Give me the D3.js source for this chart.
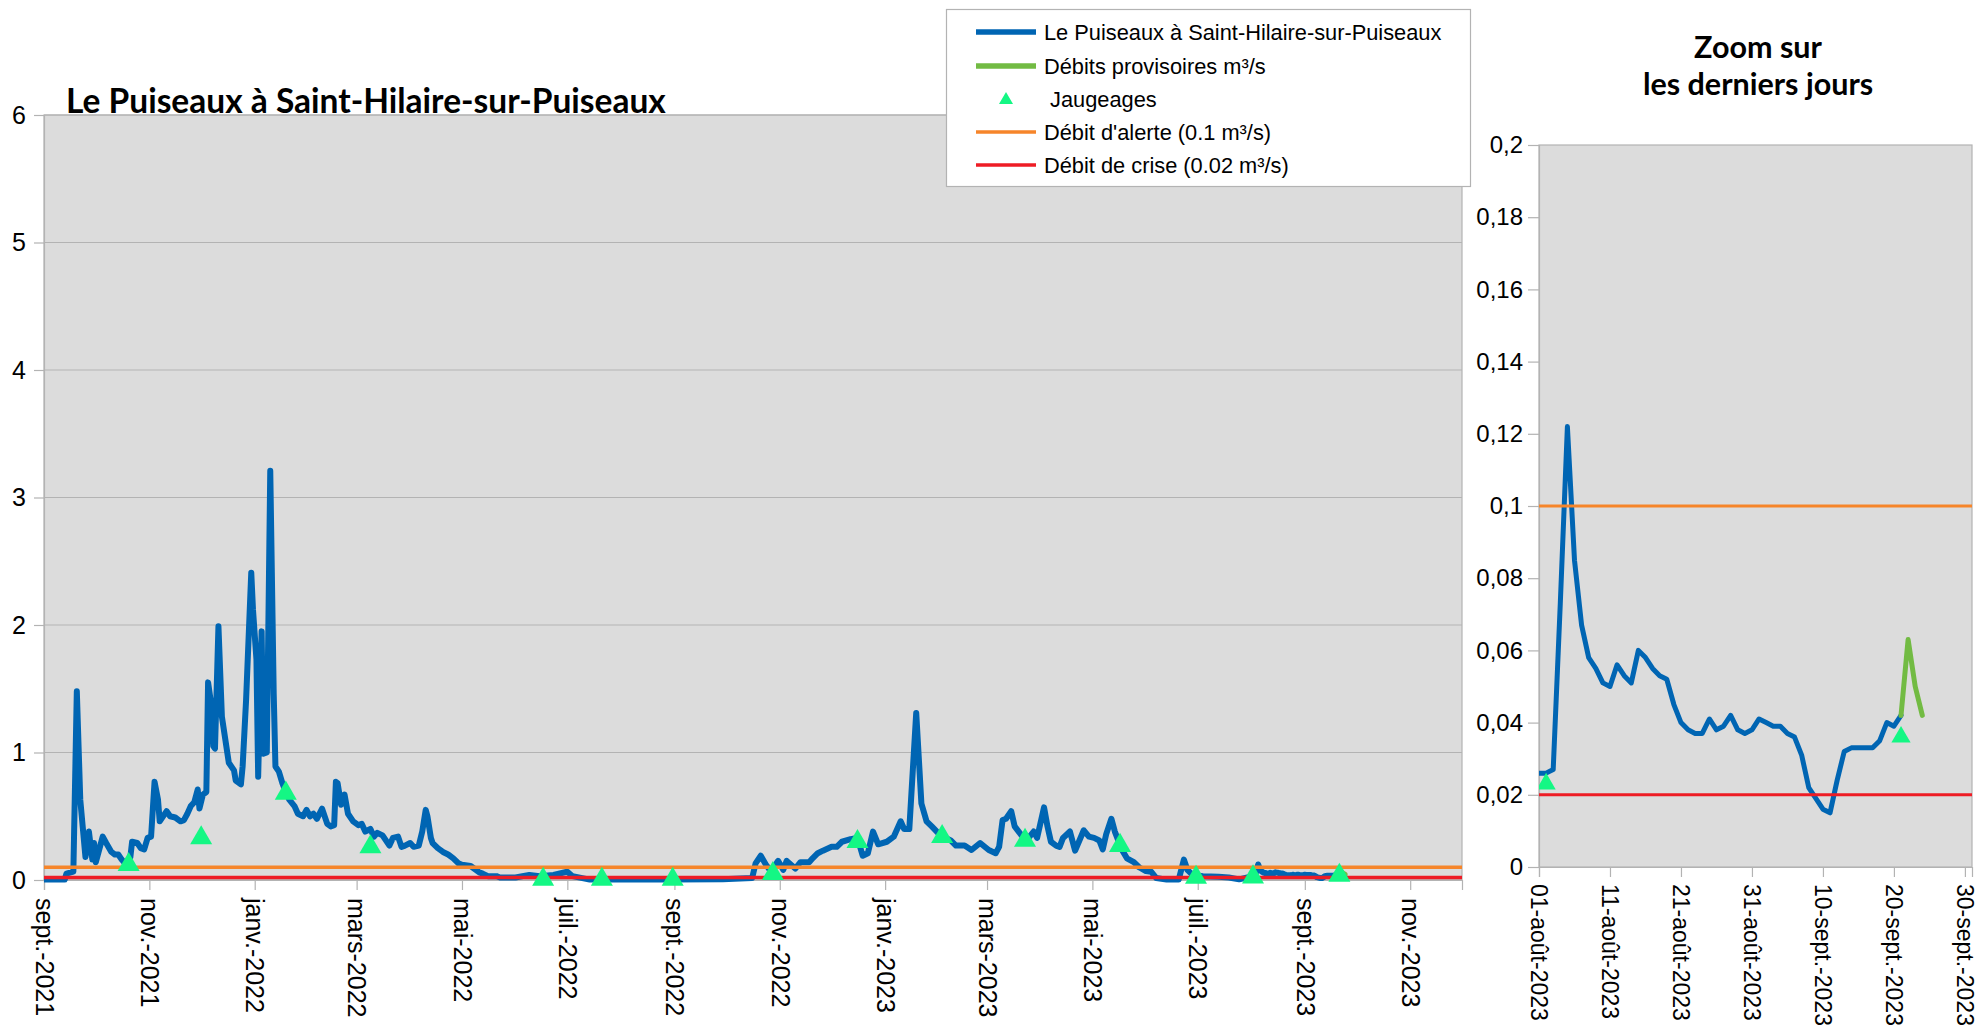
<!DOCTYPE html>
<html><head><meta charset="utf-8">
<script src="https://cdn.jsdelivr.net/npm/d3@7"></script>
<style>
body{margin:0;background:#fff;}
svg{display:block;font-family:"Liberation Sans",Arial,sans-serif;}
</style></head><body>
<svg id="c" width="1980" height="1031"></svg>
<script>
// ---------- DATA ----------
const mainDates = ["2021-09-01","2021-09-13","2021-09-14","2021-09-18","2021-09-20","2021-09-22","2021-09-25","2021-09-27","2021-09-29","2021-09-30",
"2021-10-01","2021-10-03","2021-10-05","2021-10-07","2021-10-10","2021-10-12","2021-10-14","2021-10-16","2021-10-18","2021-10-21","2021-10-22","2021-10-25","2021-10-27","2021-10-29","2021-10-31",
"2021-11-02","2021-11-04","2021-11-06","2021-11-07","2021-11-11","2021-11-13","2021-11-16","2021-11-19","2021-11-21","2021-11-23","2021-11-25","2021-11-27","2021-11-29","2021-11-30",
"2021-12-02","2021-12-04","2021-12-05","2021-12-07","2021-12-08","2021-12-09","2021-12-11","2021-12-13","2021-12-15","2021-12-17","2021-12-20","2021-12-21","2021-12-23","2021-12-24","2021-12-25","2021-12-27","2021-12-30","2021-12-31",
"2022-01-02","2022-01-03","2022-01-05","2022-01-06","2022-01-08","2022-01-10","2022-01-12","2022-01-13","2022-01-15","2022-01-17","2022-01-19","2022-01-21","2022-01-24","2022-01-26","2022-01-29","2022-01-31",
"2022-02-02","2022-02-04","2022-02-06","2022-02-09","2022-02-12","2022-02-14","2022-02-16","2022-02-17","2022-02-18","2022-02-20","2022-02-22","2022-02-24","2022-02-27",
"2022-03-02","2022-03-04","2022-03-06","2022-03-09","2022-03-11","2022-03-13","2022-03-16","2022-03-20","2022-03-22","2022-03-25","2022-03-27","2022-03-29",
"2022-04-01","2022-04-03","2022-04-06","2022-04-08","2022-04-10","2022-04-11","2022-04-13","2022-04-14","2022-04-17","2022-04-20","2022-04-23","2022-04-26","2022-04-29",
"2022-05-01","2022-05-06","2022-05-08","2022-05-11","2022-05-13","2022-05-16","2022-05-21","2022-05-23",
"2022-06-01","2022-06-09","2022-06-15","2022-06-23","2022-07-01","2022-07-04","2022-07-14","2022-08-02","2022-08-31","2022-09-29",
"2022-10-16","2022-10-18","2022-10-21","2022-10-24","2022-10-27","2022-10-31",
"2022-11-03","2022-11-05","2022-11-10","2022-11-13","2022-11-18","2022-11-20","2022-11-23","2022-11-26",
"2022-12-01","2022-12-04","2022-12-07","2022-12-12","2022-12-16","2022-12-19","2022-12-22","2022-12-25","2022-12-28",
"2023-01-02","2023-01-06","2023-01-10","2023-01-12","2023-01-15","2023-01-19","2023-01-22","2023-01-25","2023-01-28",
"2023-02-02","2023-02-08","2023-02-11","2023-02-16","2023-02-20","2023-02-25",
"2023-03-02","2023-03-06","2023-03-08","2023-03-10","2023-03-12","2023-03-15","2023-03-17","2023-03-21","2023-03-25","2023-03-28","2023-03-30",
"2023-04-03","2023-04-05","2023-04-07","2023-04-10","2023-04-12","2023-04-14","2023-04-18","2023-04-21","2023-04-26","2023-04-29",
"2023-05-02","2023-05-05","2023-05-07","2023-05-09","2023-05-12","2023-05-14","2023-05-18","2023-05-21","2023-05-25","2023-05-28",
"2023-06-01","2023-06-04","2023-06-07","2023-06-13","2023-06-20","2023-06-23","2023-06-25","2023-06-28",
"2023-07-04","2023-07-13","2023-07-19","2023-07-25","2023-07-31"];
const mainValues = [0.003,0.003,0.05,0.065,1.48,0.63,0.18,0.38,0.16,0.29,
0.14,0.24,0.34,0.29,0.22,0.2,0.2,0.16,0.13,0.18,0.3,0.29,0.25,0.24,0.33,
0.34,0.77,0.63,0.46,0.54,0.5,0.49,0.46,0.47,0.52,0.58,0.61,0.71,0.56,
0.67,0.69,1.55,1.36,1.05,1.03,1.99,1.28,1.1,0.92,0.86,0.78,0.76,0.75,0.89,1.41,2.41,2.12,
1.73,0.81,1.95,0.99,1.0,3.21,1.46,0.89,0.85,0.76,0.69,0.63,0.58,0.52,0.5,0.55,
0.5,0.52,0.48,0.56,0.44,0.42,0.43,0.77,0.76,0.59,0.67,0.52,0.46,
0.43,0.44,0.38,0.4,0.34,0.37,0.35,0.27,0.33,0.34,0.26,0.27,
0.29,0.26,0.27,0.38,0.55,0.5,0.33,0.29,0.25,0.22,0.2,0.17,0.13,
0.12,0.11,0.09,0.06,0.05,0.03,0.03,0.02,
0.02,0.04,0.03,0.04,0.065,0.03,0.003,0.003,0.003,0.005,
0.015,0.13,0.19,0.12,0.065,0.15,
0.08,0.15,0.09,0.14,0.14,0.17,0.21,0.23,
0.26,0.26,0.3,0.32,0.33,0.19,0.21,0.38,0.28,
0.3,0.34,0.46,0.4,0.4,1.31,0.6,0.46,0.42,
0.35,0.31,0.27,0.27,0.235,0.29,
0.235,0.21,0.26,0.47,0.48,0.54,0.42,0.35,0.33,0.38,0.33,
0.57,0.42,0.3,0.27,0.26,0.33,0.38,0.23,0.39,0.34,
0.33,0.31,0.24,0.36,0.48,0.38,0.24,0.17,0.14,0.1,
0.07,0.065,0.015,0.003,0.003,0.16,0.08,0.04,
0.03,0.026,0.02,0.005,0.025];

// daily values from 1 Aug 2023 (validated series)
const zoomStart = "2023-08-01";
const zoomValues = [0.026,0.026,0.027,0.073,0.122,0.085,0.067,0.058,0.055,0.051,
0.050,0.056,0.053,0.051,0.060,0.058,0.055,0.053,0.052,0.045,
0.040,0.038,0.037,0.037,0.041,0.038,0.039,0.042,0.038,0.037,
0.038,0.041,0.040,0.039,0.039,0.037,0.036,0.031,0.022,0.019,
0.016,0.015,0.024,0.032,0.033,0.033,0.033,0.033,0.035,0.040,
0.039,0.042];

// provisional flows
const provDates = ["2023-09-21","2023-09-22","2023-09-23","2023-09-24"];
const provValues = [0.042,0.063,0.050,0.042];

// gaugings (jaugeages)
const gaugeDates = ["2021-10-20","2021-12-01","2022-01-19","2022-03-09","2022-06-17","2022-07-21","2022-08-31","2022-10-28","2022-12-16","2023-02-03","2023-03-23","2023-05-17","2023-06-30","2023-08-02","2023-09-21"];
const gaugeValues = [0.12,0.33,0.68,0.26,0.005,0.005,0.005,0.05,0.30,0.34,0.31,0.27,0.02,0.023,0.036];

const alertLevel = 0.1;
const crisisLevel = 0.02;

const mainTickDates = ["2021-09-01","2021-11-01","2022-01-01","2022-03-01","2022-05-01","2022-07-01","2022-09-01","2022-11-01","2023-01-01","2023-03-01","2023-05-01","2023-07-01","2023-09-01","2023-11-01"];
const mainTickLabels = ["sept.-2021","nov.-2021","janv.-2022","mars-2022","mai-2022","juil.-2022","sept.-2022","nov.-2022","janv.-2023","mars-2023","mai-2023","juil.-2023","sept.-2023","nov.-2023"];
const mainYTicks = [0,1,2,3,4,5,6];
const mainYLabels = ["0","1","2","3","4","5","6"];

const zoomTickDates = ["2023-08-01","2023-08-11","2023-08-21","2023-08-31","2023-09-10","2023-09-20","2023-09-30"];
const zoomTickLabels = ["01-août-2023","11-août-2023","21-août-2023","31-août-2023","10-sept.-2023","20-sept.-2023","30-sept.-2023"];
const zoomYTicks = [0,0.02,0.04,0.06,0.08,0.1,0.12,0.14,0.16,0.18,0.2];
const zoomYLabels = ["0","0,02","0,04","0,06","0,08","0,1","0,12","0,14","0,16","0,18","0,2"];

const legendLabels = ["Le Puiseaux à Saint-Hilaire-sur-Puiseaux","Débits provisoires m³/s"," Jaugeages","Débit d'alerte (0.1 m³/s)","Débit de crise (0.02 m³/s)"];

// ---------- STYLE ----------
const C = {blue:"#0065b3", green:"#72bb43", tri:"#14f784", orange:"#f6852a", red:"#ee1c25", bg:"#dcdcdc", grid:"#b3b3b3"};
const parse = d3.timeParse("%Y-%m-%d");
const svg = d3.select("#c");

const zoomSeries = zoomValues.map((v,i)=>({d:d3.timeDay.offset(parse(zoomStart), i), v}));
const mainSeries = mainDates.map((d,i)=>({d:parse(d), v:mainValues[i]})).concat(zoomSeries);
const provSeries = provDates.map((d,i)=>({d:parse(d), v:provValues[i]}));
const gauges = gaugeDates.map((d,i)=>({d:parse(d), v:gaugeValues[i]}));

function panel(cfg){
  const g = svg.append("g");
  const x = d3.scaleTime().domain(cfg.xDomain).range([cfg.x0, cfg.x1]);
  const y = d3.scaleLinear().domain(cfg.yDomain).range([cfg.y0, cfg.y1]);
  g.append("rect").attr("x",cfg.x0).attr("y",cfg.y1).attr("width",cfg.x1-cfg.x0).attr("height",cfg.y0-cfg.y1)
    .attr("fill",C.bg).attr("stroke",C.grid).attr("stroke-width",1.2);
  if(cfg.grid){
    g.selectAll(".gl").data(cfg.yTicks).join("line")
      .attr("x1",cfg.x0).attr("x2",cfg.x1).attr("y1",d=>y(d)).attr("y2",d=>y(d))
      .attr("stroke",C.grid).attr("stroke-width",1.2);
  }
  // y axis
  const ya = g.append("g").attr("transform",`translate(${cfg.x0},0)`)
    .call(d3.axisLeft(y).tickValues(cfg.yTicks).tickFormat((d,i)=>cfg.yLabels[i]).tickSize(cfg.yTickSize).tickPadding(cfg.yPad));
  ya.select(".domain").attr("stroke",C.grid).attr("stroke-width",1.2);
  ya.selectAll(".tick line").attr("stroke",C.grid).attr("stroke-width",1.2);
  ya.selectAll("text").attr("font-size",cfg.font).attr("fill","#000").attr("font-family","Liberation Sans");
  // x axis
  const xa = g.append("g").attr("transform",`translate(0,${cfg.y0})`)
    .call(d3.axisBottom(x).tickValues(cfg.xTicks.map(parse)).tickFormat((d,i)=>cfg.xLabels[i]).tickSize(10));
  xa.select(".domain").attr("stroke",C.grid).attr("stroke-width",1.2);
  xa.selectAll(".tick line").attr("stroke",C.grid).attr("stroke-width",1.2);
  xa.selectAll("text").attr("font-size",cfg.xFont).attr("fill","#000").attr("font-family","Liberation Sans")
    .attr("transform","rotate(90)").attr("y",0).attr("x",cfg.xLabelOff).attr("dy","0.35em").style("text-anchor","start");
  // series
  const clipId = "clip"+cfg.id;
  svg.append("clipPath").attr("id",clipId).append("rect")
    .attr("x",cfg.x0).attr("y",cfg.y1-10).attr("width",cfg.x1-cfg.x0).attr("height",cfg.y0-cfg.y1+20);
  const pg = g.append("g").attr("clip-path",`url(#${clipId})`);
  const line = d3.line().x(d=>x(d.d)).y(d=>y(d.v));
  const ser = cfg.series.filter(d=>d.d>=cfg.xDomain[0] && d.d<=cfg.xDomain[1]);
  pg.append("path").datum(ser).attr("d",line).attr("fill","none").attr("stroke",C.blue)
    .attr("stroke-width",cfg.lw).attr("stroke-linejoin","round").attr("stroke-linecap","round");
  pg.append("path").datum(provSeries).attr("d",line).attr("fill","none").attr("stroke",C.green)
    .attr("stroke-width",cfg.lw).attr("stroke-linejoin","round").attr("stroke-linecap","round");
  pg.append("line").attr("x1",cfg.x0).attr("x2",cfg.x1).attr("y1",y(alertLevel)).attr("y2",y(alertLevel))
    .attr("stroke",C.orange).attr("stroke-width",cfg.refw);
  pg.append("line").attr("x1",cfg.x0).attr("x2",cfg.x1).attr("y1",y(crisisLevel)).attr("y2",y(crisisLevel))
    .attr("stroke",C.red).attr("stroke-width",cfg.refw);
  const sym = d3.symbol(d3.symbolTriangle, cfg.triSize);
  pg.selectAll(".tri").data(gauges.filter(d=>d.d>=cfg.xDomain[0] && d.d<=cfg.xDomain[1])).join("path")
    .attr("d",sym).attr("transform",d=>`translate(${x(d.d)},${y(d.v)})`).attr("fill",C.tri);
}

panel({id:"m", xDomain:[parse("2021-09-01"),parse("2023-12-01")], yDomain:[0,6],
  x0:44, x1:1462, y0:880, y1:115, grid:true, yTicks:mainYTicks, yLabels:mainYLabels,
  xTicks:mainTickDates, xLabels:mainTickLabels, font:25, xFont:25, xLabelOff:18, yTickSize:10, yPad:8,
  series:mainSeries, lw:6, refw:3.5, triSize:210});

panel({id:"z", xDomain:[parse("2023-08-01"),parse("2023-10-01")], yDomain:[0,0.2],
  x0:1539, x1:1972, y0:867, y1:145, grid:false, yTicks:zoomYTicks, yLabels:zoomYLabels,
  xTicks:zoomTickDates, xLabels:zoomTickLabels, font:24, xFont:23, xLabelOff:17, yTickSize:11, yPad:5,
  series:zoomSeries, lw:5, refw:3, triSize:160});

// titles
svg.append("text").attr("x",66).attr("y",113).attr("font-family","Lato").attr("font-weight","bold")
  .attr("font-size",33.5).attr("fill","#000").text("Le Puiseaux à Saint-Hilaire-sur-Puiseaux");
svg.append("text").attr("x",1758).attr("y",58).attr("text-anchor","middle").attr("font-family","Lato").attr("font-weight","bold")
  .attr("font-size",30.5).attr("fill","#000").text("Zoom sur");
svg.append("text").attr("x",1758).attr("y",95).attr("text-anchor","middle").attr("font-family","Lato").attr("font-weight","bold")
  .attr("font-size",30.5).attr("fill","#000").text("les derniers jours");

// legend
const lg = svg.append("g");
lg.append("rect").attr("x",946.5).attr("y",9.5).attr("width",524).attr("height",177).attr("fill","#fff").attr("stroke",C.grid).attr("stroke-width",1.2);
const rowsY = [32,66,99,132,165];
const legendKinds = [{c:C.blue,w:5.5},{c:C.green,w:5.5},{tri:true},{c:C.orange,w:3.5},{c:C.red,w:3.5}];
legendKinds.forEach((k,i)=>{
  if(k.tri){
    lg.append("path").attr("d",d3.symbol(d3.symbolTriangle,85)()).attr("transform",`translate(1006,${rowsY[i]+1})`).attr("fill",C.tri);
  } else {
    lg.append("line").attr("x1",976).attr("x2",1036).attr("y1",rowsY[i]).attr("y2",rowsY[i]).attr("stroke",k.c).attr("stroke-width",k.w);
  }
  lg.append("text").attr("x",1044).attr("y",rowsY[i]).attr("dy","0.35em").attr("font-size",21.8)
    .attr("font-family","Liberation Sans").attr("fill","#000").attr("xml:space","preserve").style("white-space","pre").text(legendLabels[i]);
});
</script>
</body></html>
